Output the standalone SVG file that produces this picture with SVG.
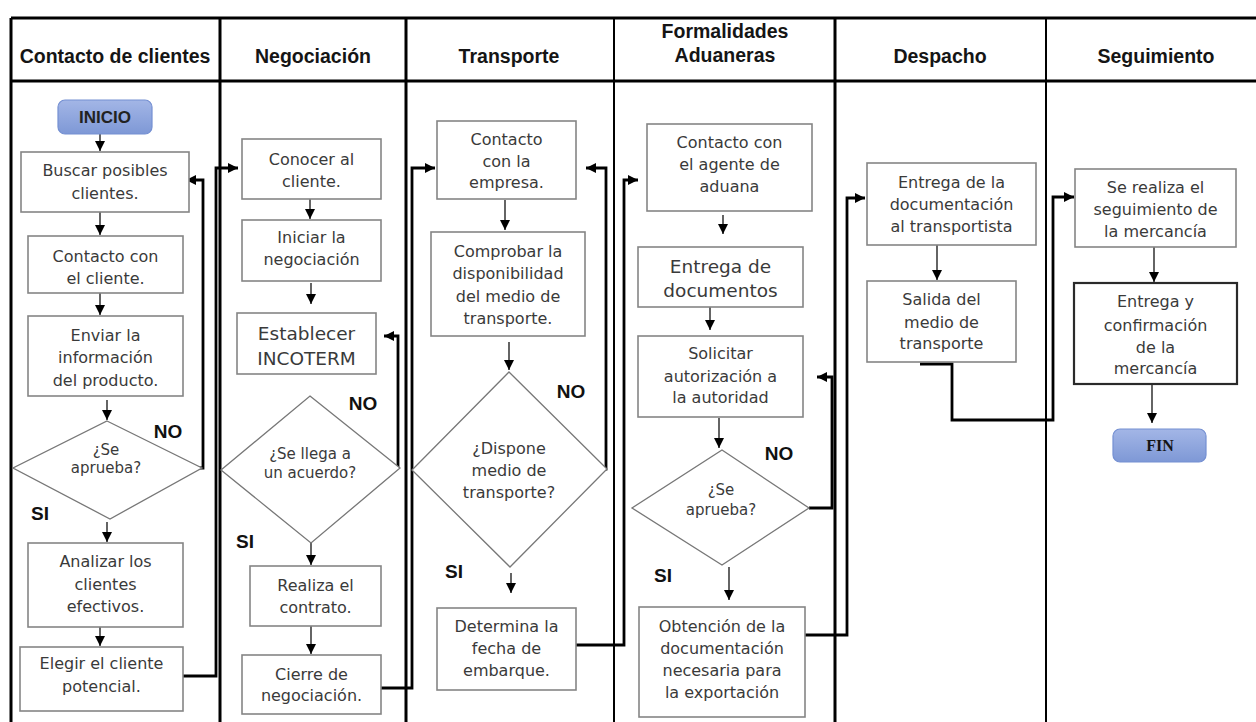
<svg xmlns="http://www.w3.org/2000/svg" width="1256" height="722" viewBox="0 0 1256 722">
  <defs>
    <style>
      .grid { stroke: #000; fill: none; }
      .hd { font-family: "Liberation Sans", Arial, sans-serif; font-weight: bold; font-size: 19.5px; fill: #151515; text-anchor: middle; }
      .box { fill: #fff; stroke: #858585; stroke-width: 1.6; }
      .dia { fill: #fff; stroke: #777; stroke-width: 1.3; }
      .t { font-family: "DejaVu Sans", sans-serif; font-size: 16px; fill: #3a3a3a; text-anchor: middle; }
      .tl { font-size: 18.5px; }
      .td { font-size: 15px; }
      .lbl { font-family: "Liberation Sans", Arial, sans-serif; font-weight: bold; font-size: 19px; fill: #111; text-anchor: middle; }
      .lbl.small { font-size: 17px; fill: #222; }
      .term { stroke: #7590d2; stroke-width: 1.2; fill: url(#termFill); }
      .flow { stroke: #111; stroke-width: 1.3; fill: none; marker-end: url(#arrow); }
      .loop { stroke: #000; stroke-width: 2.8; fill: none; marker-end: url(#arrow); }
    </style>
    <linearGradient id="termFill" x1="0" y1="0" x2="0" y2="1">
      <stop offset="0" stop-color="#a3b6e6"/>
      <stop offset="1" stop-color="#7e98d6"/>
    </linearGradient>
    <marker id="arrow" markerUnits="userSpaceOnUse" markerWidth="11" markerHeight="10" refX="10" refY="5" orient="auto">
      <path d="M0,0 L10,5 L0,10 z" fill="#000"/>
    </marker>
  </defs>

  <!-- swimlane table -->
  <g id="lanes">
    <path class="grid" stroke-width="3" d="M11 18 H1256 M11 81 H1256 M11 18 V722"/>
    <path class="grid" stroke-width="3" d="M220 18 V722 M406 18 V722 M835 18 V722"/>
    <path class="grid" stroke-width="2" d="M614 18 V722 M1046 18 V722"/>
    <text class="hd" x="115" y="63">Contacto de clientes</text>
    <text class="hd" x="313" y="63">Negociación</text>
    <text class="hd" x="509" y="63">Transporte</text>
    <text class="hd" x="725" y="38">Formalidades</text>
    <text class="hd" x="725" y="62">Aduaneras</text>
    <text class="hd" x="940" y="63">Despacho</text>
    <text class="hd" x="1156" y="63">Seguimiento</text>
  </g>

  <!-- connectors -->
  <g id="connectors">
    <path class="flow" d="M100 134 V151"/>
    <path class="flow" d="M100 212 V235"/>
    <path class="flow" d="M100 293 V315"/>
    <path class="flow" d="M107 400 V420"/>
    <path class="flow" d="M107 522 V542"/>
    <path class="flow" d="M100 627 V646"/>
    <path class="flow" d="M310 199 V219"/>
    <path class="flow" d="M311 283 V304"/>
    <path class="flow" d="M311 543 V565"/>
    <path class="flow" d="M311 626 V654"/>
    <path class="flow" d="M505 200 V230"/>
    <path class="flow" d="M509 342 V370"/>
    <path class="flow" d="M511 573 V593"/>
    <path class="flow" d="M723 215 V234"/>
    <path class="flow" d="M710 307 V330"/>
    <path class="flow" d="M719 418 V448"/>
    <path class="flow" d="M729 567 V600"/>
    <path class="flow" d="M937 245 V280"/>
    <path class="flow" d="M1154 247 V282"/>
    <path class="flow" stroke="#666" d="M1152 384 V423"/>

    <!-- NO loops -->
    <path class="loop" d="M190 468 H203 V180 H186"/>
    <path class="loop" d="M376 467 H398 V336 H384"/>
    <path class="loop" d="M592 469 H606 V168 H586"/>
    <path class="loop" d="M809 508 H832 V377 H817"/>

    <!-- hand-offs between lanes -->
    <path class="loop" d="M183 676 H216 V168 H238"/>
    <path class="loop" d="M381 688 H412 V168 H435"/>
    <path class="loop" d="M576 645 H624 V180 H638"/>
    <path class="loop" d="M805 635 H847 V198 H865"/>
    <path class="loop" d="M920 364 H952 V420 H1053 V197 H1074"/>
  </g>

  <!-- Contacto de clientes -->
  <g id="inicio">
    <rect class="term" x="58" y="100" width="94" height="34" rx="7"/>
    <text class="lbl small" x="105" y="123">INICIO</text>
  </g>
  <g id="buscar">
    <rect class="box" x="21" y="152" width="168" height="60"/>
    <text class="t" x="105" y="176">Buscar posibles</text>
    <text class="t" x="105" y="199">clientes.</text>
  </g>
  <g id="contacto-cliente">
    <rect class="box" x="28" y="236" width="155" height="57"/>
    <text class="t" x="105.5" y="262">Contacto con</text>
    <text class="t" x="105.5" y="284">el cliente.</text>
  </g>
  <g id="enviar">
    <rect class="box" x="28" y="316" width="155" height="80"/>
    <text class="t" x="105.5" y="341">Enviar la</text>
    <text class="t" x="105.5" y="363">información</text>
    <text class="t" x="105.5" y="386">del producto.</text>
  </g>
  <g id="aprueba-1">
    <polygon class="dia" points="107,421 202,468 110,519 13,468"/>
    <text class="t td" x="106" y="455">¿Se</text>
    <text class="t td" x="106" y="473">aprueba?</text>
    <text class="lbl" x="168" y="438">NO</text>
    <text class="lbl" x="40" y="520">SI</text>
  </g>
  <g id="analizar">
    <rect class="box" x="28" y="543" width="155" height="84"/>
    <text class="t" x="105.5" y="567">Analizar los</text>
    <text class="t" x="105.5" y="590">clientes</text>
    <text class="t" x="105.5" y="612">efectivos.</text>
  </g>
  <g id="elegir">
    <rect class="box" x="20" y="647" width="163" height="64"/>
    <text class="t" x="101.5" y="669">Elegir el cliente</text>
    <text class="t" x="101.5" y="692">potencial.</text>
  </g>

  <!-- Negociación -->
  <g id="conocer">
    <rect class="box" x="242" y="139" width="139" height="60"/>
    <text class="t" x="311.5" y="165">Conocer al</text>
    <text class="t" x="311.5" y="187">cliente.</text>
  </g>
  <g id="iniciar">
    <rect class="box" x="242" y="220" width="139" height="61"/>
    <text class="t" x="311.5" y="243">Iniciar la</text>
    <text class="t" x="311.5" y="265">negociación</text>
  </g>
  <g id="incoterm">
    <rect class="box" x="237" y="313" width="139" height="61"/>
    <text class="t tl" x="306.5" y="340">Establecer</text>
    <text class="t tl" x="306.5" y="365">INCOTERM</text>
  </g>
  <g id="acuerdo">
    <polygon class="dia" points="310,396 400,468 311,543 221,470"/>
    <text class="t td" x="310" y="459">¿Se llega a</text>
    <text class="t td" x="310" y="478">un acuerdo?</text>
    <text class="lbl" x="363" y="410">NO</text>
    <text class="lbl" x="245" y="548">SI</text>
  </g>
  <g id="contrato">
    <rect class="box" x="250" y="566" width="131" height="60"/>
    <text class="t" x="315.5" y="591">Realiza el</text>
    <text class="t" x="315.5" y="613">contrato.</text>
  </g>
  <g id="cierre">
    <rect class="box" x="242" y="655" width="139" height="59"/>
    <text class="t" x="311.5" y="680">Cierre de</text>
    <text class="t" x="311.5" y="701">negociación.</text>
  </g>

  <!-- Transporte -->
  <g id="contacto-empresa">
    <rect class="box" x="437" y="121" width="139" height="78"/>
    <text class="t" x="506.5" y="145">Contacto</text>
    <text class="t" x="506.5" y="167">con la</text>
    <text class="t" x="506.5" y="188">empresa.</text>
  </g>
  <g id="comprobar">
    <rect class="box" x="431" y="232" width="154" height="104"/>
    <text class="t" x="508" y="257">Comprobar la</text>
    <text class="t" x="508" y="279">disponibilidad</text>
    <text class="t" x="508" y="302">del medio de</text>
    <text class="t" x="508" y="324">transporte.</text>
  </g>
  <g id="dispone">
    <polygon class="dia" points="509,372 607,469 510,567 412,470"/>
    <text class="t" x="509" y="454">¿Dispone</text>
    <text class="t" x="509" y="476">medio de</text>
    <text class="t" x="509" y="498">transporte?</text>
    <text class="lbl" x="571" y="398">NO</text>
    <text class="lbl" x="454" y="578">SI</text>
  </g>
  <g id="fecha">
    <rect class="box" x="437" y="608" width="139" height="82"/>
    <text class="t" x="506.5" y="632">Determina la</text>
    <text class="t" x="506.5" y="654">fecha de</text>
    <text class="t" x="506.5" y="676">embarque.</text>
  </g>

  <!-- Formalidades Aduaneras -->
  <g id="agente">
    <rect class="box" x="647" y="124" width="165" height="87"/>
    <text class="t" x="729.5" y="148">Contacto con</text>
    <text class="t" x="729.5" y="170">el agente de</text>
    <text class="t" x="729.5" y="192">aduana</text>
  </g>
  <g id="documentos">
    <rect class="box" x="638" y="247" width="165" height="60"/>
    <text class="t tl" x="720.5" y="273">Entrega de</text>
    <text class="t tl" x="720.5" y="297">documentos</text>
  </g>
  <g id="solicitar">
    <rect class="box" x="638" y="336" width="165" height="81"/>
    <text class="t" x="720.5" y="359">Solicitar</text>
    <text class="t" x="720.5" y="382">autorización a</text>
    <text class="t" x="720.5" y="403">la autoridad</text>
  </g>
  <g id="aprueba-2">
    <polygon class="dia" points="722,450 809,508 722,565 632,508"/>
    <text class="t td" x="721" y="495">¿Se</text>
    <text class="t td" x="721" y="515">aprueba?</text>
    <text class="lbl" x="779" y="460">NO</text>
    <text class="lbl" x="663" y="582">SI</text>
  </g>
  <g id="obtencion">
    <rect class="box" x="639" y="607" width="166" height="110"/>
    <text class="t" x="722" y="632">Obtención de la</text>
    <text class="t" x="722" y="654">documentación</text>
    <text class="t" x="722" y="676">necesaria para</text>
    <text class="t" x="722" y="698">la exportación</text>
  </g>

  <!-- Despacho -->
  <g id="entrega-doc">
    <rect class="box" x="867" y="163" width="169" height="82"/>
    <text class="t" x="951.5" y="188">Entrega de la</text>
    <text class="t" x="951.5" y="210">documentación</text>
    <text class="t" x="951.5" y="232">al transportista</text>
  </g>
  <g id="salida">
    <rect class="box" x="867" y="281" width="149" height="81"/>
    <text class="t" x="941.5" y="305">Salida del</text>
    <text class="t" x="941.5" y="328">medio de</text>
    <text class="t" x="941.5" y="349">transporte</text>
  </g>

  <!-- Seguimiento -->
  <g id="seguimiento">
    <rect class="box" x="1075" y="169" width="161" height="78"/>
    <text class="t" x="1155.5" y="193">Se realiza el</text>
    <text class="t" x="1155.5" y="215">seguimiento de</text>
    <text class="t" x="1155.5" y="237">la mercancía</text>
  </g>
  <g id="confirmacion">
    <rect class="box" x="1074" y="283" width="163" height="101" style="stroke:#2a2a2a; stroke-width:2.2"/>
    <text class="t" x="1155.5" y="307">Entrega y</text>
    <text class="t" x="1155.5" y="331">confirmación</text>
    <text class="t" x="1155.5" y="353">de la</text>
    <text class="t" x="1155.5" y="374">mercancía</text>
  </g>
  <g id="fin">
    <rect class="term" x="1113" y="429" width="93" height="33" rx="7"/>
    <text x="1160" y="451" font-family="'Liberation Serif', 'Times New Roman', serif" font-weight="bold" font-size="16" fill="#151515" text-anchor="middle">FIN</text>
  </g>
</svg>
